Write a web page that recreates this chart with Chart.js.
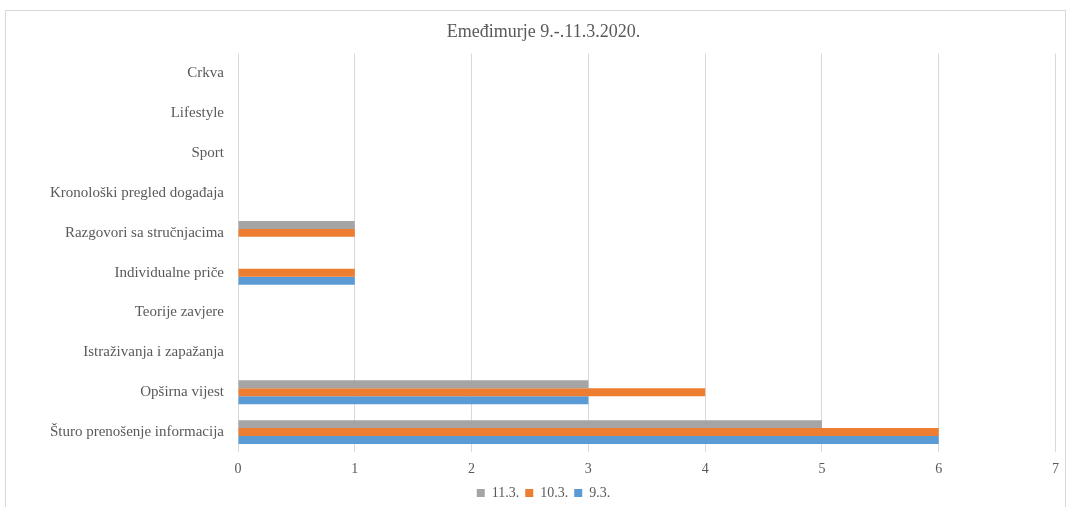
<!DOCTYPE html>
<html>
<head>
<meta charset="utf-8">
<script src="https://cdn.jsdelivr.net/npm/chart.js@4/dist/chart.umd.min.js"></script>
<style>
  body { margin: 0; background: #fff; overflow: hidden; }
  #frame { position: absolute; left: 5px; top: 10px; width: 1059px; height: 520px; border: 1px solid #d9d9d9; }
  #wrap { position: absolute; left: 0; top: 3px; width: 1068px; height: 507px; }
</style>
</head>
<body>
<div id="frame"></div>
<div id="wrap"><canvas id="chart"></canvas></div>
<script>
// Kategorije (redoslijed kao u Excelu, odozdo prema gore)
const categories = [
  "Šturo prenošenje informacija",
  "Opširna vijest",
  "Istraživanja i zapažanja",
  "Teorije zavjere",
  "Individualne priče",
  "Razgovori sa stručnjacima",
  "Kronološki pregled događaja",
  "Sport",
  "Lifestyle",
  "Crkva"
];

// Vrijednosti po danima
const values113 = [5, 3, 0, 0, 0, 1, 0, 0, 0, 0];
const values103 = [6, 4, 0, 0, 1, 1, 0, 0, 0, 0];
const values93  = [6, 3, 0, 0, 1, 0, 0, 0, 0, 0];

const seriesNames = ["11.3.", "10.3.", "9.3."];
const xTicks = [0, 1, 2, 3, 4, 5, 6, 7];

const textColor = "#595959";
const serif = "'Liberation Serif', 'Times New Roman', serif";

new Chart("chart", {
  type: "bar",
  data: {
    labels: categories,
    datasets: [
      { label: seriesNames[0], data: values113, backgroundColor: "#A5A5A5" },
      { label: seriesNames[1], data: values103, backgroundColor: "#ED7D31" },
      { label: seriesNames[2], data: values93,  backgroundColor: "#5B9BD5" }
    ]
  },
  options: {
    indexAxis: "y",
    responsive: true,
    maintainAspectRatio: false,
    animation: false,
    datasets: { bar: { barPercentage: 1, categoryPercentage: 0.6 } },
    layout: { padding: { left: 30, right: 11, top: 0, bottom: 0 } },
    plugins: {
      title: {
        display: true,
        text: "Emeđimurje 9.-.11.3.2020.",
        color: textColor,
        font: { family: serif, size: 18, weight: "normal" },
        padding: { top: 18, bottom: 11 }
      },
      legend: {
        position: "bottom",
        labels: {
          color: textColor,
          boxWidth: 8,
          boxHeight: 8,
          padding: 6,
          font: { family: serif, size: 14 }
        }
      },
      tooltip: { enabled: false }
    },
    scales: {
      x: {
        min: 0,
        max: 7,
        afterBuildTicks: axis => { axis.ticks = xTicks.map(v => ({ value: v })); },
        afterFit: axis => { axis.height = 28; },
        grid: { color: "#d9d9d9", drawTicks: false },
        border: { display: false },
        ticks: { color: textColor, padding: 9, font: { family: serif, size: 14 } }
      },
      y: {
        reverse: true,
        afterFit: axis => { axis.width = 208; },
        grid: { display: false },
        border: { display: false },
        ticks: { color: textColor, padding: 6, font: { family: serif, size: 15 } }
      }
    }
  }
});
</script>
</body>
</html>
